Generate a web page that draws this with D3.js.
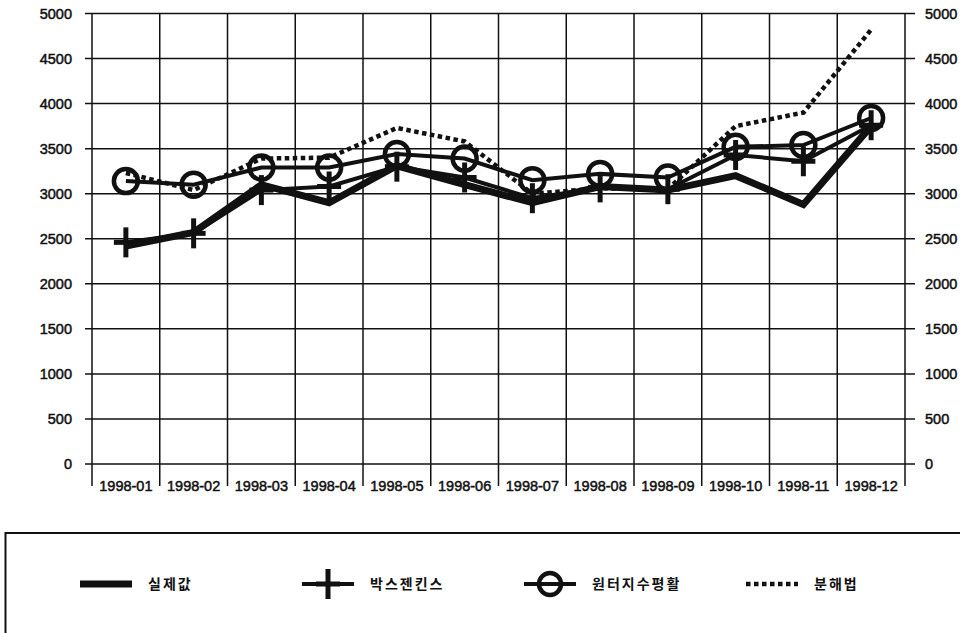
<!DOCTYPE html>
<html>
<head>
<meta charset="utf-8">
<script src="https://cdn.jsdelivr.net/npm/d3@7/dist/d3.min.js"></script>
<style>
  html, body { margin: 0; padding: 0; background: #fff; }
  svg { display: block; }
  .tick-label { font-family: "Liberation Sans", Arial, sans-serif; font-size: 14.5px; fill: #111; stroke: #111; stroke-width: 0.5px; }
  .legend-label { font-family: "Noto Sans CJK KR", sans-serif; font-weight: bold; font-size: 14px; letter-spacing: 2px; fill: #111; }
</style>
</head>
<body>
<script>
// Monthly forecasts for 1998, three methods against the actual series
const months = ["1998-01","1998-02","1998-03","1998-04","1998-05","1998-06",
                "1998-07","1998-08","1998-09","1998-10","1998-11","1998-12"];
const actual        = [2420, 2570, 3100, 2900, 3310, 3100, 2900, 3080, 3040, 3200, 2880, 3750];
const boxJenkins    = [2460, 2560, 3040, 3080, 3300, 3180, 2950, 3070, 3050, 3430, 3360, 3760];
const winters       = [3140, 3100, 3290, 3290, 3440, 3390, 3150, 3220, 3180, 3520, 3540, 3840];
const decomposition = [3230, 3040, 3390, 3400, 3730, 3580, 3000, 3060, 3050, 3750, 3900, 4820];
const yTicks = [0, 500, 1000, 1500, 2000, 2500, 3000, 3500, 4000, 4500, 5000];
const seriesNames = ["실제값", "박스젠킨스", "원터지수평활", "분해법"];

const W = 960, H = 633;
const plotLeft = 92, plotRight = 905, plotTop = 13.5, plotBottom = 464;

const svg = d3.select("body").append("svg").attr("width", W).attr("height", H);

const x = d3.scaleBand().domain(months).range([plotLeft, plotRight]).padding(0);
const y = d3.scaleLinear().domain([0, 5000]).range([plotBottom, plotTop]);
const cx = m => x(m) + x.bandwidth() / 2;

// horizontal grid lines, with short ticks on both sides
const grid = svg.append("g").attr("stroke", "#111").attr("stroke-width", 1.5);
grid.selectAll("line.h").data(yTicks).join("line").attr("class", "h")
  .attr("x1", plotLeft - 7).attr("x2", plotRight + 10)
  .attr("y1", d => y(d)).attr("y2", d => y(d));

// vertical category boundaries, extended down through the label row
const bounds = months.map(m => x(m)).concat([plotRight]);
grid.selectAll("line.v").data(bounds).join("line").attr("class", "v")
  .attr("x1", d => d).attr("x2", d => d)
  .attr("y1", plotTop).attr("y2", plotBottom + 22);

// axis labels
svg.append("g").selectAll("text").data(yTicks).join("text")
  .attr("class", "tick-label")
  .attr("x", plotLeft - 20).attr("y", d => y(d)).attr("dy", "0.35em")
  .attr("text-anchor", "end").text(d => d);
svg.append("g").selectAll("text").data(yTicks).join("text")
  .attr("class", "tick-label")
  .attr("x", plotRight + 20).attr("y", d => y(d)).attr("dy", "0.35em")
  .attr("text-anchor", "start").text(d => d);
svg.append("g").selectAll("text").data(months).join("text")
  .attr("class", "tick-label")
  .attr("x", d => cx(d)).attr("y", plotBottom + 27)
  .attr("text-anchor", "middle").text(d => d);

const line = d3.line().x(d => cx(d.m)).y(d => y(d.v));
const pts = arr => arr.map((v, i) => ({ m: months[i], v }));

// decomposition: dotted
svg.append("path").datum(pts(decomposition)).attr("d", line)
  .attr("fill", "none").attr("stroke", "#111").attr("stroke-width", 4.5)
  .attr("stroke-dasharray", "4.5,3.5");

// Winters smoothing: line with hollow circles
svg.append("path").datum(pts(winters)).attr("d", line)
  .attr("fill", "none").attr("stroke", "#111").attr("stroke-width", 4);
svg.append("g").selectAll("circle").data(pts(winters)).join("circle")
  .attr("cx", d => cx(d.m)).attr("cy", d => y(d.v)).attr("r", 12)
  .attr("fill", "none").attr("stroke", "#111").attr("stroke-width", 4.5);

// Box-Jenkins: line with plus markers
svg.append("path").datum(pts(boxJenkins)).attr("d", line)
  .attr("fill", "none").attr("stroke", "#111").attr("stroke-width", 4);
const plus = (g, px, py) => {
  g.append("line").attr("x1", px).attr("x2", px).attr("y1", py - 15).attr("y2", py + 15);
  g.append("line").attr("x1", px - 12).attr("x2", px + 12).attr("y1", py).attr("y2", py);
};
const pg = svg.append("g").attr("stroke", "#111").attr("stroke-width", 5);
pts(boxJenkins).forEach(d => plus(pg, cx(d.m), y(d.v)));

// actual values: thick solid line
svg.append("path").datum(pts(actual)).attr("d", line)
  .attr("fill", "none").attr("stroke", "#111").attr("stroke-width", 7)
  .attr("stroke-linejoin", "miter");

// legend box
svg.append("rect").attr("x", 5.5).attr("y", 533).attr("width", 970).attr("height", 140)
  .attr("fill", "none").attr("stroke", "#111").attr("stroke-width", 2);

const ly = 584;
const lx = [80, 302, 524, 746];
const lg = svg.append("g");
// 실제값
lg.append("line").attr("x1", lx[0]).attr("x2", lx[0] + 52).attr("y1", ly).attr("y2", ly)
  .attr("stroke", "#111").attr("stroke-width", 7);
// 박스젠킨스
lg.append("line").attr("x1", lx[1]).attr("x2", lx[1] + 52).attr("y1", ly).attr("y2", ly)
  .attr("stroke", "#111").attr("stroke-width", 4);
const lpg = lg.append("g").attr("stroke", "#111").attr("stroke-width", 5);
plus(lpg, lx[1] + 26, ly);
// 원터지수평활
lg.append("line").attr("x1", lx[2]).attr("x2", lx[2] + 52).attr("y1", ly).attr("y2", ly)
  .attr("stroke", "#111").attr("stroke-width", 4);
lg.append("circle").attr("cx", lx[2] + 26).attr("cy", ly).attr("r", 11)
  .attr("fill", "none").attr("stroke", "#111").attr("stroke-width", 4.5);
// 분해법
lg.append("line").attr("x1", lx[3]).attr("x2", lx[3] + 52).attr("y1", ly).attr("y2", ly)
  .attr("stroke", "#111").attr("stroke-width", 4.5).attr("stroke-dasharray", "4.5,3.5");

lg.selectAll("text").data(seriesNames).join("text")
  .attr("class", "legend-label")
  .attr("x", (d, i) => lx[i] + 68).attr("y", ly).attr("dy", "0.35em")
  .text(d => d);
</script>
</body>
</html>
